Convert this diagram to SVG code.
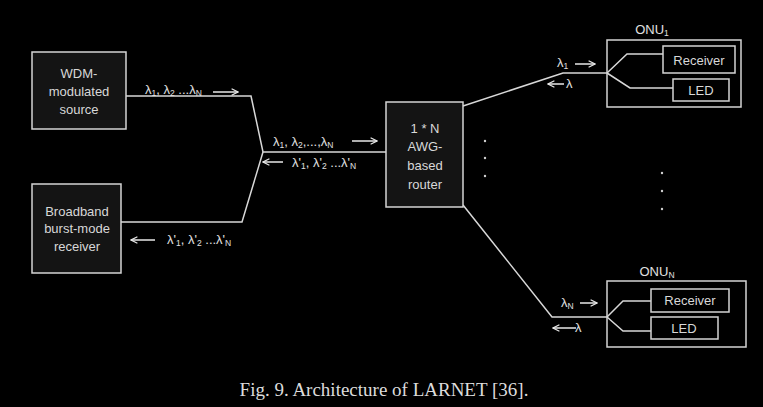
<svg xmlns="http://www.w3.org/2000/svg" width="763" height="407" viewBox="0 0 763 407">
<style>
.box{fill:#141414;stroke:#d4d4d4;stroke-width:1.5}
.sub{fill:#000;stroke:#d4d4d4;stroke-width:1.5}
.t{font-family:"Liberation Sans",Arial,sans-serif;font-size:13px;fill:#d8d8d8;text-anchor:middle}
.l{font-family:"Liberation Sans",Arial,sans-serif;font-size:13px;fill:#e0e0e0}
.s{font-size:8.5px}
.w{fill:none;stroke:#d8d8d8;stroke-width:1.5}
.ar{fill:none;stroke:#e8e8e8;stroke-width:1.5}
.dot{fill:#d0d0d0}
.cap{font-family:"Liberation Serif","Times New Roman",serif;font-size:19px;fill:#dcdcdc;text-anchor:middle}
</style>
<defs>
<marker id="ah" viewBox="0 0 10 10" refX="9" refY="5" markerWidth="8" markerHeight="8" orient="auto" markerUnits="userSpaceOnUse">
<path d="M1,1 L9,5 L1,9" fill="none" stroke="#e8e8e8" stroke-width="1.5"/>
</marker>
</defs>
<rect x="0" y="0" width="763" height="407" fill="#000"/>

<g id="connectors">
<polyline class="w" points="126,96 251,96 263,152"/>
<polyline class="w" points="121,222 242,222 263,152"/>
<line class="w" x1="263" y1="152" x2="386" y2="152"/>
<polyline class="w" points="463,106 563,73 607,73"/>
<polyline class="w" points="463,205 552,317 607,317"/>
</g>

<g id="wdm-source">
<rect class="box" x="32" y="52" width="94" height="77"/>
<text class="t" x="79" y="78">WDM-</text>
<text class="t" x="79" y="96">modulated</text>
<text class="t" x="79" y="114">source</text>
</g>

<g id="burst-receiver">
<rect class="box" x="32" y="184" width="89" height="89"/>
<text class="t" x="77" y="216">Broadband</text>
<text class="t" x="77" y="233">burst-mode</text>
<text class="t" x="77" y="251">receiver</text>
</g>

<g id="awg-router">
<rect class="box" x="386" y="102" width="77" height="105"/>
<text class="t" x="425" y="133">1 * N</text>
<text class="t" x="425" y="151">AWG-</text>
<text class="t" x="425" y="170">based</text>
<text class="t" x="425" y="189">router</text>
</g>

<g id="onu1">
<text class="l" x="652" y="34" text-anchor="middle">ONU<tspan class="s" dy="2">1</tspan></text>
<rect class="sub" x="607" y="40" width="134" height="67"/>
<polyline class="w" points="607,73 627,54 663,54"/>
<polyline class="w" points="607,73 630,88 673,88"/>
<rect class="sub" x="663" y="46" width="72" height="27"/>
<text class="t" x="699" y="65">Receiver</text>
<rect class="sub" x="673" y="79" width="56" height="22"/>
<text class="t" x="701" y="95">LED</text>
</g>

<g id="onuN">
<text class="l" x="657" y="276" text-anchor="middle">ONU<tspan class="s" dy="2">N</tspan></text>
<rect class="sub" x="607" y="281" width="139" height="66"/>
<polyline class="w" points="607,317 623,301 651,301"/>
<polyline class="w" points="607,317 623,331 651,331"/>
<rect class="sub" x="651" y="289" width="78" height="23"/>
<text class="t" x="690" y="305">Receiver</text>
<rect class="sub" x="651" y="317" width="67" height="22"/>
<text class="t" x="684" y="333">LED</text>
</g>

<g id="labels">
<text class="l" x="145" y="94">λ<tspan class="s" dy="2">1</tspan><tspan dy="-2">, λ</tspan><tspan class="s" dy="2">2</tspan><tspan dy="-2"> ...λ</tspan><tspan class="s" dy="2">N</tspan></text>
<line class="ar" x1="213" y1="92" x2="238" y2="92" marker-end="url(#ah)"/>

<line class="ar" x1="155" y1="240" x2="131" y2="240" marker-end="url(#ah)"/>
<text class="l" x="167" y="244">λ'<tspan class="s" dy="2">1</tspan><tspan dy="-2">, λ'</tspan><tspan class="s" dy="2">2</tspan><tspan dy="-2"> ...λ'</tspan><tspan class="s" dy="2">N</tspan></text>

<text class="l" x="273" y="146">λ<tspan class="s" dy="2">1</tspan><tspan dy="-2">, λ</tspan><tspan class="s" dy="2">2</tspan><tspan dy="-2">,...,λ</tspan><tspan class="s" dy="2">N</tspan></text>
<line class="ar" x1="352" y1="141" x2="377" y2="141" marker-end="url(#ah)"/>

<line class="ar" x1="283" y1="162" x2="263" y2="162" marker-end="url(#ah)"/>
<text class="l" x="292" y="167">λ'<tspan class="s" dy="2">1</tspan><tspan dy="-2">, λ'</tspan><tspan class="s" dy="2">2</tspan><tspan dy="-2"> ...λ'</tspan><tspan class="s" dy="2">N</tspan></text>

<text class="l" x="557" y="67">λ<tspan class="s" dy="2">1</tspan></text>
<line class="ar" x1="575" y1="64" x2="595" y2="64" marker-end="url(#ah)"/>
<line class="ar" x1="564" y1="84" x2="548" y2="84" marker-end="url(#ah)"/>
<text class="l" x="566" y="88">λ</text>

<text class="l" x="561" y="307">λ<tspan class="s" dy="2">N</tspan></text>
<line class="ar" x1="580" y1="303" x2="597" y2="303" marker-end="url(#ah)"/>
<line class="ar" x1="576" y1="328" x2="553" y2="328" marker-end="url(#ah)"/>
<text class="l" x="575" y="332">λ</text>
</g>

<g id="dots">
<circle class="dot" cx="485" cy="141" r="1.2"/>
<circle class="dot" cx="485" cy="158" r="1.2"/>
<circle class="dot" cx="485" cy="176" r="1.2"/>
<circle class="dot" cx="662" cy="173" r="1.2"/>
<circle class="dot" cx="662" cy="191" r="1.2"/>
<circle class="dot" cx="662" cy="209" r="1.2"/>
</g>

<text class="cap" x="384" y="396">Fig. 9. Architecture of LARNET [36].</text>
</svg>
